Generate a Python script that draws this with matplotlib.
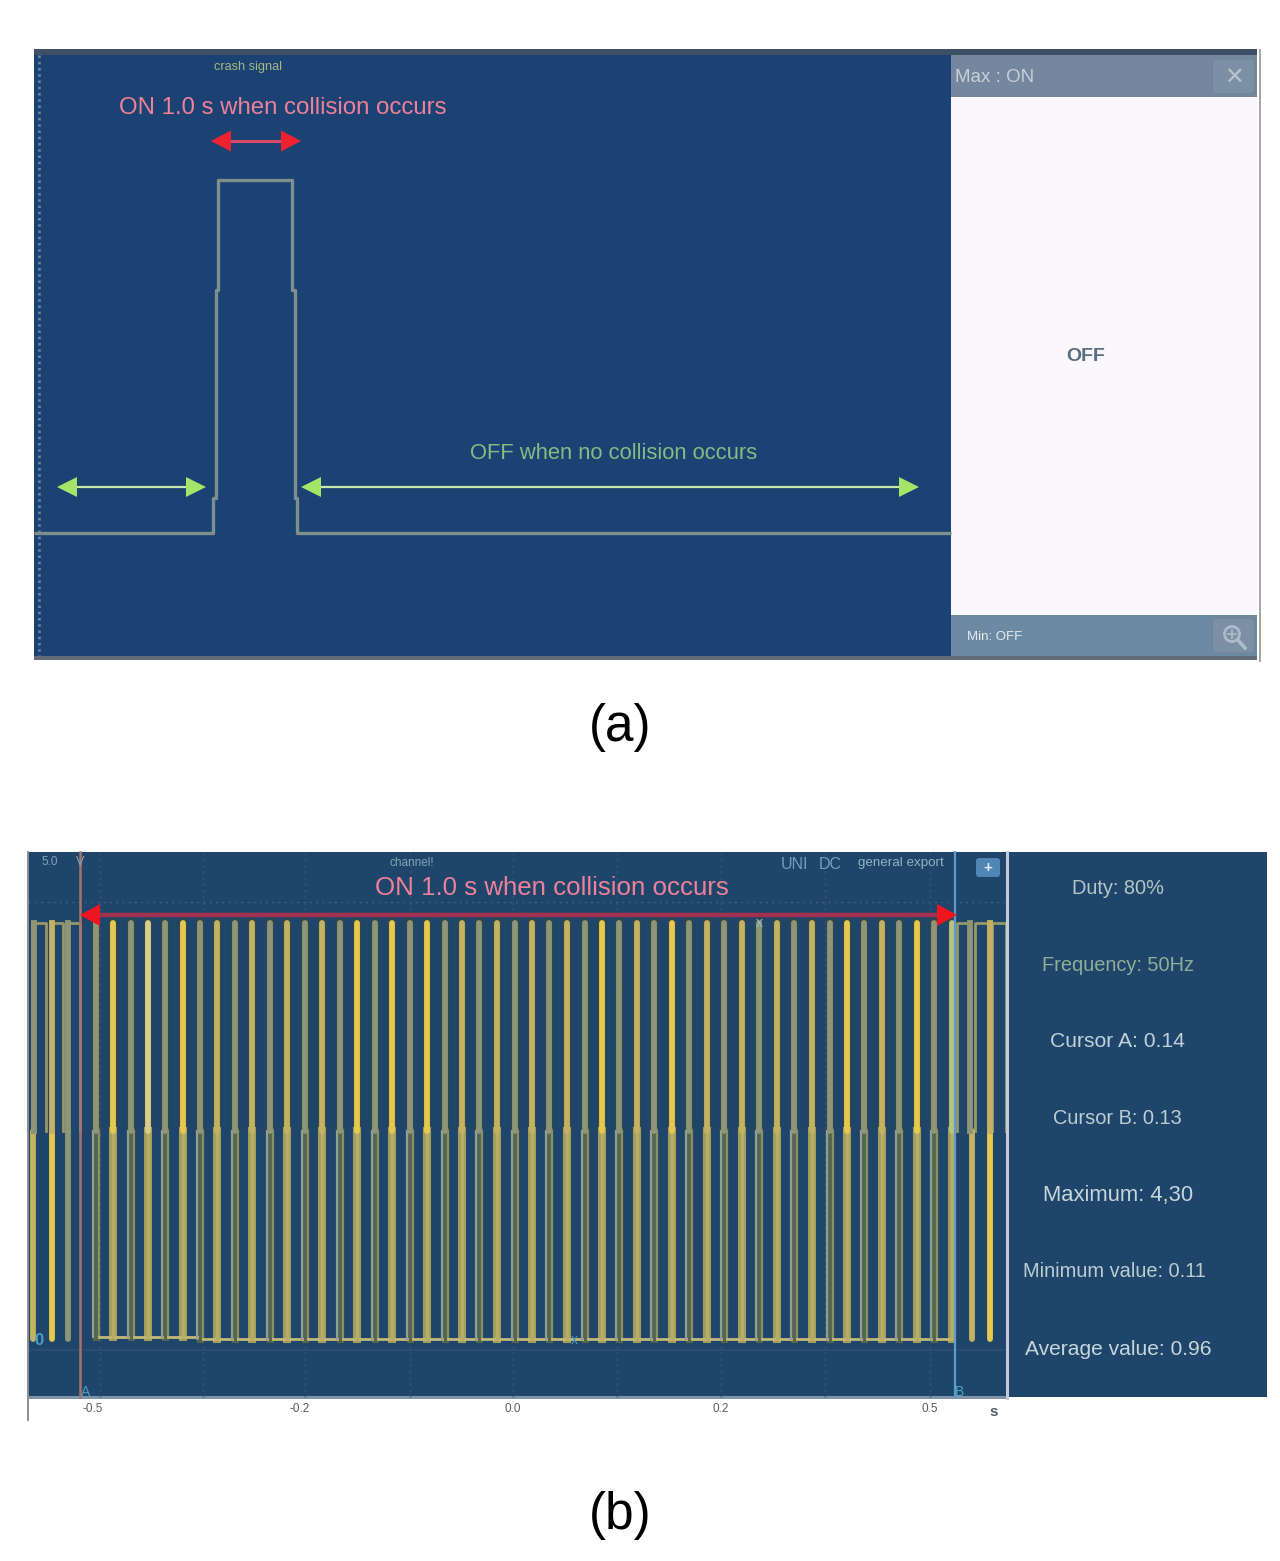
import matplotlib
matplotlib.use("Agg")
import matplotlib.pyplot as plt
from matplotlib.patches import Rectangle, FancyBboxPatch, Circle

plt.rcParams['font.family'] = ['Liberation Sans', 'DejaVu Sans']

# panel (a) trace in image pixels
crash_x = [34, 213, 213, 215.5, 215.5, 218, 218, 292, 292, 294.5, 294.5, 297, 297, 951]
crash_y = [533, 533, 498, 498, 290, 290, 180, 180, 290, 290, 498, 498, 533, 533]

# panel (b) pulses
pulse_x = [96, 113, 131, 148, 165, 183, 200, 217, 235, 252, 270, 287, 305, 322, 340, 357,
           375, 392, 410, 427, 445, 462, 479, 497, 515, 532, 549, 567, 585, 602, 619, 637,
           654, 672, 689, 707, 724, 742, 759, 777, 794, 812, 830, 847, 864, 882, 899, 917,
           934, 952]
pulse_tone = "gygcgygtgtgtgtgygygygtgtgtgtgygtgygtgtgtgtgygtgygl"
pulse_low = [1337] * 6 + [1339] * 44
head_tops = [(32, 46), (51, 63), (67, 80)]
tail_tops = [(957, 970), (975, 988), (992, 1006)]
top_bar_x = [34, 52, 68, 970, 990]
top_bar_tone = "gtggt"
stub_x = [33, 52, 68, 972, 990]
stub_tone = "tygty"
level_high = 923
level_mid = 1131

xgrid_b = [100, 203, 305, 410, 513, 617, 721, 825, 930]
xtick_pos = [93, 300, 513, 721, 930]
xtick_labels = ['-0.5', '-0.2', '0.0', '0.2', '0.5']
readout_y = [887, 964, 1040, 1117, 1194, 1270, 1348]
readout_x = [1118, 1118, 1117, 1117, 1118, 1114, 1118]
readout_text = ['Duty: 80%', 'Frequency: 50Hz', 'Cursor A: 0.14', 'Cursor B: 0.13',
                'Maximum: 4,30', 'Minimum value: 0.11', 'Average value: 0.96']
readout_col = ['#b4c6c4', '#8fae96', '#c0d2d8', '#bccdd2', '#c6d6da', '#bccdd2', '#c6d6da']
readout_size = [14.4, 14.4, 15.2, 14.4, 15.8, 14.4, 15.1]

tones = {'g': '#8f9577', 'y': '#e6c84e', 't': '#c4b162', 'c': '#d6cf8e', 'l': '#b9c283'}
BLUE_A = '#1b4273'
BLUE_B = '#20456a'


def rect(ax, x0, y0, x1, y1, color, z=1):
    ax.add_patch(Rectangle((x0, y0), x1 - x0, y1 - y0, facecolor=color, edgecolor='none', zorder=z))


def double_arrow(ax, x0, x1, y, line_col, head_col, lw, hl, hh):
    ax.plot([x0 + hl / 2, x1 - hl / 2], [y, y], color=line_col, lw=lw, zorder=6, solid_capstyle='butt')
    ax.fill([x0, x0 + hl, x0 + hl], [y, y - hh / 2, y + hh / 2], color=head_col, lw=0, zorder=7)
    ax.fill([x1, x1 - hl, x1 - hl], [y, y - hh / 2, y + hh / 2], color=head_col, lw=0, zorder=7)


def label(ax, x, y, s, col, size, **kw):
    # matplotlib centres on the full box, so nudge down to sit like the picture
    ax.text(x, y + 1.5, s, color=col, fontsize=size, ha=kw.pop('ha', 'center'), va='center', zorder=9, **kw)


fig = plt.figure(figsize=(12.8, 15.61), dpi=100)
ax = fig.add_axes([0, 0, 1, 1])
ax.set_xlim(0, 1280)
ax.set_ylim(1561, 0)
ax.axis('off')

# ---- panel (a)
rect(ax, 34, 49, 1257, 56, '#3e4f63')
rect(ax, 34, 55, 951, 656, BLUE_A)
rect(ax, 951, 97, 1258, 615, '#fbf8fb')
rect(ax, 951, 55, 1257, 97, '#74879e', 2)
rect(ax, 951, 615, 1257, 656, '#6d8aa3', 2)
rect(ax, 34, 656, 1257, 660, '#626c78', 2)
ax.plot([1259.5, 1259.5], [50, 661], color='#a5a5a5', lw=1.4, zorder=3)
ax.plot([39, 39], [55, 656], color='#6f88a2', lw=1.8, ls=(0, (1, 1.5)), zorder=3)
ax.plot(crash_x, crash_y, color='#7f8f8c', lw=2.4, zorder=4, solid_joinstyle='round', solid_capstyle='butt')

double_arrow(ax, 211, 301, 141, '#dd4a68', '#f0222f', 2.2, 20, 21)
double_arrow(ax, 57, 206, 487, '#c4eca8', '#a6e468', 1.6, 20, 20)
double_arrow(ax, 301, 919, 487, '#c4eca8', '#a6e468', 1.6, 20, 20)

label(ax, 248, 65, 'crash signal', '#a9b87e', 9.2)
label(ax, 282.5, 106, 'ON 1.0 s when collision occurs', '#ee8098', 17.3)
label(ax, 613.5, 452, 'OFF when no collision occurs', '#86bb82', 15.8)
label(ax, 955, 76, 'Max : ON', '#c9d0d8', 13.5, ha='left')
label(ax, 1086, 355, 'OFF', '#5a6e80', 14, fontweight='bold')
label(ax, 967, 635, 'Min: OFF', '#e6ebef', 9.5, ha='left')

for yb in (59, 618):
    ax.add_patch(FancyBboxPatch((1212, yb), 43, 35, boxstyle='round,pad=0,rounding_size=4',
                                facecolor='#7b8fa5', edgecolor='#6f8297', lw=0.8, zorder=3))
ax.text(1233.5, 78, '\u2715', color='#b9c3cc', fontsize=17, ha='center', va='center', zorder=4,
        family=['DejaVu Sans'])
ax.add_patch(Circle((1232, 634), 7.5, facecolor='none', edgecolor='#aebcc8', lw=2, zorder=4))
ax.plot([1238, 1245], [640, 648], color='#aebcc8', lw=2.6, zorder=4)
ax.plot([1228, 1236], [634, 634], color='#aebcc8', lw=1.3, zorder=4)
ax.plot([1232, 1232], [630, 638], color='#aebcc8', lw=1.3, zorder=4)

ax.text(620, 727, '(a)', color='black', fontsize=37, ha='center', va='center')

# ---- panel (b)
rect(ax, 28, 852, 1267, 1397, BLUE_B)
rect(ax, 28, 1396, 1007, 1399, '#7f93aa', 2)
ax.plot([28, 28], [852, 1420], color='#8b8f94', lw=1.4, zorder=3)
ax.plot([1007, 1007], [852, 1398], color='#c3ccd6', lw=2.2, zorder=8)
for gx in xgrid_b:
    ax.plot([gx, gx], [852, 1397], color='#33587b', lw=1, ls=(0, (1.5, 3)), zorder=2)
ax.plot([28, 1007], [902, 902], color='#3a5f82', lw=1, ls=(0, (1.5, 3)), zorder=2)
ax.plot([28, 1007], [1350, 1350], color='#2b5074', lw=1.2, zorder=2)

for i, px in enumerate(pulse_x):
    col = tones[pulse_tone[i]]
    low = pulse_low[i]
    grey = pulse_tone[i] == 'g'
    half = 2.8 if grey else 3.2
    # dark halo behind the top half of each pulse
    ax.plot([px, px], [level_high, level_mid], color='#3f4a2e', lw=6, alpha=0.6, zorder=3)
    if grey:
        ax.plot([px, px], [low, level_mid], color='#55654f', lw=5, zorder=3.5)
        ax.plot([px - half, px - half], [low, level_mid], color='#8ea094', lw=1.6, zorder=4)
        ax.plot([px + half, px + half], [low, level_mid], color='#8c8f60', lw=1.6, zorder=4)
    else:
        ax.plot([px, px], [low, level_mid], color='#a39d5c', lw=5.8, zorder=3.5)
        ax.plot([px, px], [low, level_mid], color='#b8ad68', lw=2.5, zorder=3.6)
    ax.plot([px, px], [level_high, level_mid], color=col, lw=4.2, zorder=5, solid_capstyle='round')
    if i < len(pulse_x) - 1:
        ax.plot([px + half, pulse_x[i + 1] - 3], [low, low], color='#c3b878', lw=2, zorder=4)

for x0, x1 in head_tops + tail_tops:
    ax.plot([x0, x0, x1, x1], [level_mid, level_high, level_high, level_mid],
            color='#98976a', lw=2, zorder=4, solid_joinstyle='round')
for px, tone in zip(top_bar_x, top_bar_tone):
    ax.plot([px, px], [level_high, level_mid], color=tones[tone], lw=4.2, zorder=4.5)
for px, tone in zip(stub_x, stub_tone):
    ax.plot([px, px], [level_mid, 1339], color=tones[tone], lw=4.2, zorder=4, solid_capstyle='round')

# cursors and arrow
ax.plot([80, 80], [852, 1397], color='#a9706c', lw=1.8, zorder=6)
ax.plot([955, 955], [852, 1397], color='#5e9ccb', lw=1.6, zorder=6)
double_arrow(ax, 80, 957, 915, '#a4304f', '#f0141f', 3.2, 20, 22)

label(ax, 50, 860, '5.0', '#7fa3bb', 8.5)
label(ax, 80, 860, 'V', '#8fa9b5', 9)
label(ax, 412, 861, 'channel!', '#7fa6b8', 8.5)
label(ax, 794, 863, 'UNI', '#6fa0bb', 11.5)
label(ax, 830, 863, 'DC', '#6fa0bb', 11.5)
label(ax, 901, 861, 'general export', '#8fb3c2', 9.6)
ax.add_patch(FancyBboxPatch((976, 858), 24, 19, boxstyle='round,pad=0,rounding_size=3',
                            facecolor='#4f86b4', edgecolor='none', zorder=3))
label(ax, 988, 866, '+', '#e6eef5', 11, fontweight='bold')
label(ax, 552, 886, 'ON 1.0 s when collision occurs', '#ee8098', 18.6)
label(ax, 39, 1339, '0', '#4a9fc4', 12, fontweight='bold')
label(ax, 86, 1390, 'A', '#4a9fc4', 10)
label(ax, 960, 1390, 'B', '#4aa6c4', 10)
label(ax, 574, 1338, 'x', '#4a9fc4', 10)
label(ax, 759, 921, 'x', '#8fc0c8', 10)

for tx, lab in zip(xtick_pos, xtick_labels):
    label(ax, tx, 1407, lab, '#555b60', 8.5)
label(ax, 994, 1411, 's', '#4f5f6f', 11, fontweight='bold')

for rx, ry, rt, rc, rs in zip(readout_x, readout_y, readout_text, readout_col, readout_size):
    label(ax, rx, ry, rt, rc, rs)

ax.text(620, 1516, '(b)', color='black', fontsize=37, ha='center', va='center')

fig.savefig('out.png', dpi=100, facecolor='white')
